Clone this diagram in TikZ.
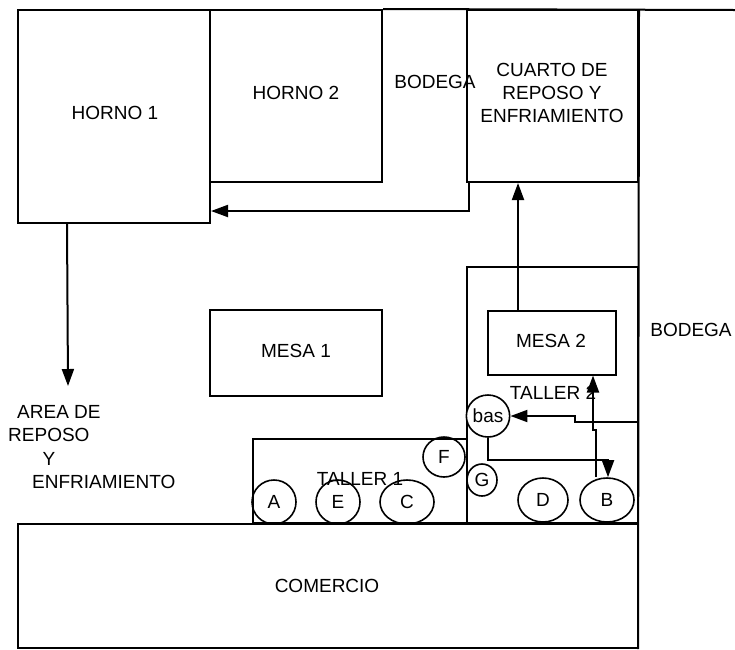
\documentclass[tikz,border=0pt]{standalone}
\usepackage{fontspec}
\setmainfont{Liberation Sans}
\usetikzlibrary{arrows.meta,shapes.geometric}
\tikzset{
  wall/.style={line width=2pt},
  room/.style={draw, line width=2pt, inner sep=0pt, rectangle},
  tool/.style={draw, line width=1.6pt, ellipse, inner sep=0pt},
  lbl/.style={inner sep=0pt, align=center},
  arr/.style={line width=2pt, -{Triangle[length=17pt,width=12pt]}},
}
\begin{document}
\begin{tikzpicture}[x=1pt,y=-1pt, font=\fontsize{19}{23}\selectfont]
\useasboundingbox (0,0) rectangle (735,649);
% rooms
\node[room, minimum width=192pt, minimum height=213pt] (horno1) at (114,116.5) {};
\node[lbl] (thorno1) at (115,113) {HORNO 1};
\node[room, minimum width=172pt, minimum height=172pt] (horno2) at (296,96) {};
\node[lbl] (thorno2) at (296,93) {HORNO 2};
\node[room, minimum width=171pt, minimum height=172pt] (cuarto) at (552.5,96) {};
\node[lbl] (tcuarto) at (552,93) {CUARTO DE\\REPOSO Y\\ENFRIAMIENTO};
\node[lbl] (bodega1) at (435,82) {BODEGA};
\node[lbl] (bodega2) at (691,330) {BODEGA};
\node[room, minimum width=172pt, minimum height=86pt] (mesa1) at (296,353) {};
\node[lbl] (tmesa1) at (296,351) {MESA 1};
\node[room, minimum width=171pt, minimum height=256pt] (taller2) at (552.5,395) {};
\node[room, minimum width=214pt, minimum height=84pt] (taller1) at (360,481) {};
\node[room, minimum width=128pt, minimum height=64pt] (mesa2) at (552,343) {};
\node[lbl] (tmesa2) at (551,341) {MESA 2};
\node[room, minimum width=620pt, minimum height=124pt] (comercio) at (328,586) {};
\node[lbl] (tcomercio) at (327,586) {COMERCIO};
% walls
\draw[wall] (horno2.north east) -- (735,10);
\draw[wall] (cuarto.north east) -- (638,649);
% labels
\node[lbl] (ttaller1) at (360,479) {TALLER 1};
\node[lbl] (ttaller2) at (553,393) {TALLER 2};
\node[lbl, anchor=west] (area1) at (17,412) {AREA DE};
\node[lbl, anchor=west] (area2) at (8,435) {REPOSO};
\node[lbl] (area3) at (49,459) {Y};
\node[lbl, anchor=west] (area4) at (32,482) {ENFRIAMIENTO};
% stations
\node[tool, minimum width=44pt, minimum height=44pt] (A) at (274,502) {A};
\node[tool, minimum width=44pt, minimum height=44pt] (E) at (338,502) {E};
\node[tool, minimum width=54pt, minimum height=44pt] (C) at (407,502) {C};
\node[tool, minimum width=50pt, minimum height=44pt] (D) at (543,500) {D};
\node[tool, minimum width=54pt, minimum height=44pt] (B) at (607,500) {B};
\node[tool, minimum width=42pt, minimum height=40pt] (F) at (444,457) {F};
\node[tool, minimum width=30pt, minimum height=32pt] (G) at (482,480) {G};
\node[tool, minimum width=42pt, minimum height=42pt, fill=white] (bas) at (488,416) {bas};
% connectors
\coordinate (areatop) at (68,386);
\draw[arr] ([xshift=3pt]cuarto.south west) |- ([yshift=-94.5pt]horno1.east);
\draw[arr] ([xshift=50pt]horno1.south west) -- (areatop);
\draw[arr] ([xshift=-34pt]mesa2.north) -- ([xshift=-34pt]mesa2.north |- cuarto.south);
\coordinate (w1) at (638,422);
\draw[arr] (w1) -- (575,422) -- (575,416) -- (bas.east);
\draw[arr] ([xshift=-11pt]B.north) -- (596,430) -- (593,430) -- (593,375.5);
\draw[arr] (bas.south) -- (488,460) -- (608,460) -- ([xshift=1pt]B.north);
\end{tikzpicture}
\end{document}
